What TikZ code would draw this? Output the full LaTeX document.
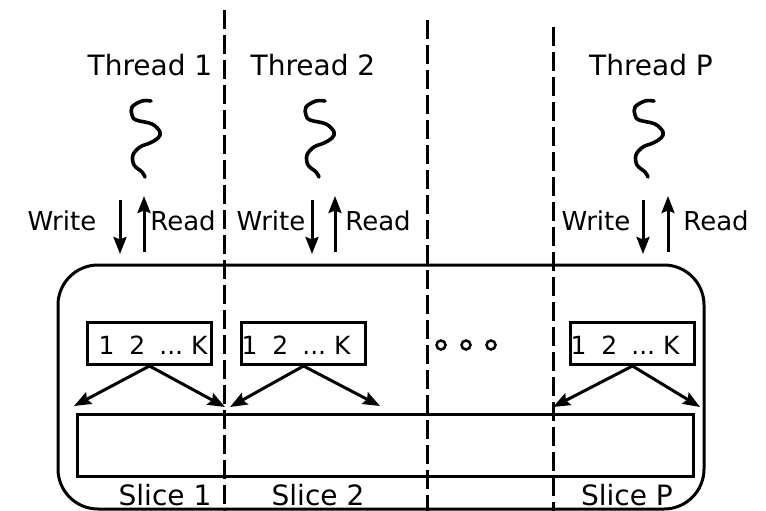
\documentclass[tikz,border=0pt]{standalone}
\usepackage{fontspec}
\setmainfont{DejaVu Sans}
\usetikzlibrary{arrows.meta}

\begin{document}
\begin{tikzpicture}[x=1pt, y=-1pt, line width=3pt,
  arr/.style={-{Stealth[length=17pt,width=13pt,inset=2.5pt]}},
  sep/.style={dash pattern=on 19pt off 6pt},
  big/.style={font=\fontsize{28}{30}\selectfont, inner sep=0pt, anchor=base},
  mid/.style={font=\fontsize{26}{28}\selectfont, inner sep=0pt, anchor=base},
  idx/.style={font=\fontsize{25}{27}\selectfont, inner sep=0pt, anchor=base west},
  slot/.style={draw, minimum width=124pt, minimum height=42pt, inner sep=0pt, anchor=north west},
  squiggle/.pic={
    \draw[line width=3.6pt, line cap=round, line join=round]
      plot[smooth, tension=0.6] coordinates {(0,0) (-9,0) (-19,6) (-19,14) (-15,19) (1,23) (9,31) (7,37) (-1,42) (-11,46) (-18,54) (-17,64) (-9,71) (-6,76)};
  }
]
\useasboundingbox (0,0) rectangle (766,511);

% shared memory region and the slice array
\draw[rounded corners=40pt] (58,265) rectangle (704,509);
\draw (77,414) rectangle (693,476);

% threads
\node[big] (t1) at (150,76) {Thread 1};
\node[big] (t2) at (313,76) {Thread 2};
\node[big] (tp) at (651,76) {Thread P};
\pic at (151,101) {squiggle};
\pic at (325,101) {squiggle};
\pic at (654,101) {squiggle};

% write / read arrows
\foreach \n/\w/\r in {1/120/144, 2/312/335, p/643/668} {
  \coordinate (w\n a) at (\w,200);
  \coordinate (w\n b) at (\w,254);
  \coordinate (r\n a) at (\r,252);
  \coordinate (r\n b) at (\r,196);
  \draw[arr] (w\n a) -- (w\n b);
  \draw[arr] (r\n a) -- (r\n b);
}
\node[mid] (w1) at (62,230) {Write};
\node[mid] (r1) at (183,230) {Read};
\node[mid] (w2) at (271,230) {Write};
\node[mid] (r2) at (378,230) {Read};
\node[mid] (wp) at (596,230) {Write};
\node[mid] (rp) at (716,230) {Read};

% per-thread index buffers
\node[slot] (b1) at (86,321) {};
\node[slot] (b2) at (240,321) {};
\node[slot] (bp) at (569,321) {};
\foreach \b/\x in {1/97, 2/240, p/569} {
  \node[idx] (k\b) at (\x,354) {1\hspace{15pt}2\hspace{14pt}...\hspace{8pt}K};
}

% buffer entries point into the slice array
\coordinate (a1l) at (74,406);
\coordinate (a1r) at (225,407);
\coordinate (a2l) at (230,407);
\coordinate (a2r) at (380,406);
\coordinate (apl) at (553,407);
\coordinate (apr) at (700,407);
\draw[arr] (b1.south) -- (a1l);
\draw[arr] (b1.south) -- (a1r);
\draw[arr] (b2.south) -- (a2l);
\draw[arr] (b2.south) -- (a2r);
\draw[arr] (bp.south) -- (apl);
\draw[arr] (bp.south) -- (apr);

% ellipsis between thread columns
\foreach \x in {441,466,491} \draw[line width=2.5pt] (\x,345) circle (4.5pt);

% slice labels
\node[big] (s1) at (165,505) {Slice 1};
\node[big] (s2) at (318,505) {Slice 2};
\node[big] (sp) at (627,505) {Slice P};

% column separators
\coordinate (d1a) at (224,10);  \coordinate (d1b) at (224,515);
\coordinate (d2a) at (427,20);  \coordinate (d2b) at (427,515);
\coordinate (d3a) at (553,27);  \coordinate (d3b) at (553,515);
\draw[sep] (d1a) -- (d1b);
\draw[sep] (d2a) -- (d2b);
\draw[sep] (d3a) -- (d3b);
\end{tikzpicture}
\end{document}
